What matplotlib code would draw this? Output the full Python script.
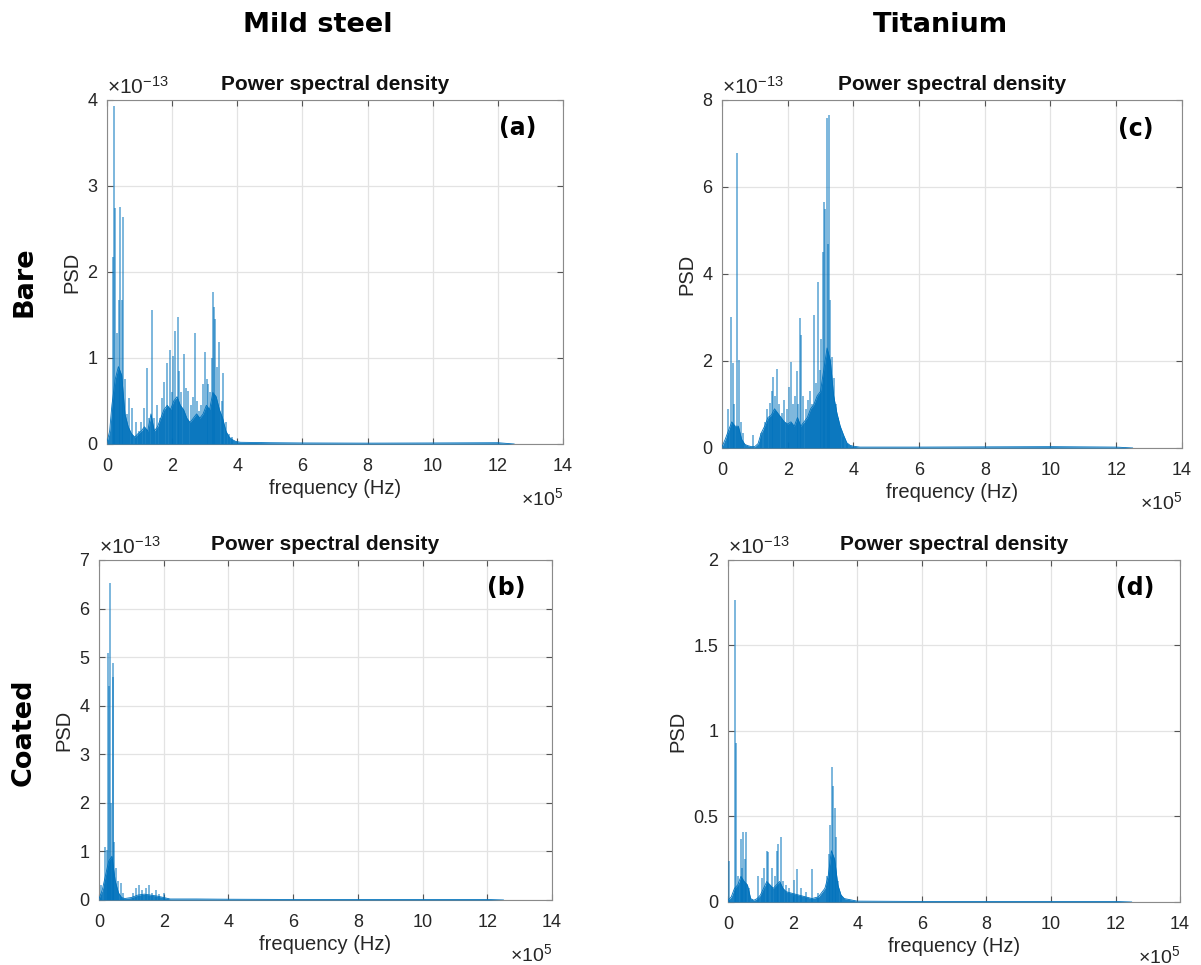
import numpy as np
import matplotlib
matplotlib.use("Agg")
import matplotlib.pyplot as plt

plt.rcParams["font.family"] = ["Liberation Sans", "DejaVu Sans"]
plt.rcParams["mathtext.fontset"] = "custom"
plt.rcParams["mathtext.rm"] = "Liberation Sans"
plt.rcParams["mathtext.it"] = "Liberation Sans"

LINE = "#0072BD"
GRID = "#e3e3e3"
EDGE = "#8a8a8a"
TXT = "#262626"

# frequencies in units of 1e5 Hz, PSD in units of 1e-13

# (a) mild steel, bare
a_env_f = [0, 0.08, 0.15, 0.25, 0.35, 0.45, 0.55, 0.65, 0.75, 0.85, 0.95, 1.05, 1.15,
           1.25, 1.35, 1.45, 1.55, 1.65, 1.75, 1.85, 1.95, 2.05, 2.15, 2.25, 2.35, 2.45,
           2.55, 2.65, 2.75, 2.85, 2.95, 3.05, 3.15, 3.25, 3.35, 3.45, 3.55, 3.65, 3.75,
           3.85, 3.95, 4.1, 5, 6, 8, 10, 12, 12.5]
a_env_v = [0.02, 0.15, 0.45, 0.75, 0.9, 0.8, 0.35, 0.2, 0.12, 0.08, 0.12, 0.15, 0.2,
           0.15, 0.35, 0.15, 0.2, 0.3, 0.4, 0.45, 0.4, 0.5, 0.55, 0.45, 0.4, 0.3,
           0.25, 0.3, 0.35, 0.3, 0.35, 0.45, 0.4, 0.6, 0.55, 0.4, 0.3, 0.15, 0.08,
           0.05, 0.03, 0.02, 0.015, 0.012, 0.01, 0.012, 0.015, 0]
a_spk_f = [0.17, 0.21, 0.26, 0.32, 0.38, 0.40, 0.45, 0.48, 0.55, 0.62, 0.69, 0.78, 0.88,
           0.98, 1.05, 1.13, 1.22, 1.30, 1.37, 1.45, 1.55, 1.62, 1.68, 1.75, 1.83, 1.92,
           1.98, 2.04, 2.09, 2.17, 2.22, 2.28, 2.37, 2.44, 2.50, 2.57, 2.63, 2.71, 2.77,
           2.83, 2.90, 2.96, 3.01, 3.06, 3.10, 3.16, 3.21, 3.24, 3.28, 3.33, 3.38, 3.45,
           3.52, 3.57, 3.65, 3.75, 3.85]
a_spk_v = [2.18, 3.93, 2.74, 1.29, 1.67, 2.76, 1.67, 2.64, 0.75, 0.35, 0.53, 0.42, 0.26,
           0.15, 0.25, 0.42, 0.88, 0.3, 1.56, 0.3, 0.45, 0.3, 0.53, 0.72, 0.94, 1.09,
           0.6, 1.02, 1.31, 1.48, 0.85, 0.6, 1.05, 0.65, 0.62, 0.45, 0.55, 1.29, 0.5,
           0.38, 0.45, 0.7, 1.07, 0.75, 0.7, 0.6, 1.0, 1.77, 1.59, 1.45, 0.9, 1.19,
           0.5, 0.82, 0.25, 0.12, 0.08]

# (b) mild steel, coated
b_env_f = [0, 0.1, 0.2, 0.3, 0.4, 0.5, 0.6, 0.7, 0.8, 1.0, 1.2, 1.4, 1.6, 1.8, 2.0, 2.2,
           3, 4, 6, 8, 10, 12, 12.5]
b_env_v = [0.02, 0.2, 0.5, 0.8, 0.9, 0.4, 0.15, 0.05, 0.03, 0.05, 0.1, 0.12, 0.1, 0.08,
           0.05, 0.02, 0.02, 0.015, 0.01, 0.01, 0.01, 0.01, 0]
b_spk_f = [0.05, 0.19, 0.25, 0.29, 0.31, 0.34, 0.38, 0.42, 0.44, 0.48, 0.53, 0.60, 0.67,
           0.75, 1.05, 1.15, 1.25, 1.32, 1.45, 1.55, 1.65, 1.75, 1.85, 2.0]
b_spk_v = [0.3, 1.1, 1.03, 5.08, 4.4, 6.52, 2.0, 4.6, 4.87, 1.2, 0.65, 0.4, 0.35,
           0.15, 0.15, 0.25, 0.3, 0.2, 0.25, 0.3, 0.15, 0.2, 0.12, 0.15]

# (c) titanium, bare
c_env_f = [0, 0.1, 0.2, 0.3, 0.4, 0.5, 0.6, 0.7, 0.8, 0.9, 1.0, 1.1, 1.2, 1.3, 1.4, 1.5,
           1.6, 1.7, 1.8, 1.9, 2.0, 2.1, 2.2, 2.3, 2.4, 2.5, 2.6, 2.7, 2.8, 2.9, 3.0,
           3.1, 3.2, 3.3, 3.4, 3.5, 3.6, 3.7, 3.8, 3.9, 4.0, 4.2, 6, 8, 10, 12, 12.5]
c_env_v = [0.02, 0.2, 0.4, 0.6, 0.5, 0.5, 0.2, 0.08, 0.05, 0.03, 0.03, 0.1, 0.35, 0.5,
           0.7, 0.75, 0.9, 0.8, 0.7, 0.6, 0.55, 0.6, 0.5, 0.7, 0.5, 0.6, 0.7, 0.9, 1.0,
           1.2, 1.3, 1.8, 2.3, 2.0, 1.2, 0.8, 0.5, 0.3, 0.12, 0.06, 0.04, 0.02, 0.02,
           0.025, 0.03, 0.02, 0]
c_spk_f = [0.20, 0.29, 0.33, 0.38, 0.45, 0.52, 0.58, 0.65, 0.95, 1.20, 1.30, 1.38, 1.46,
           1.52, 1.56, 1.62, 1.68, 1.75, 1.82, 1.90, 1.97, 2.03, 2.09, 2.15, 2.21, 2.27,
           2.32, 2.37, 2.42, 2.48, 2.55, 2.62, 2.68, 2.74, 2.80, 2.86, 2.92, 2.97, 3.03,
           3.07, 3.10, 3.14, 3.19, 3.23, 3.26, 3.30, 3.35, 3.40, 3.46, 3.52, 3.6, 3.7, 3.8]
c_spk_v = [0.9, 3.02, 1.95, 1.0, 6.77, 2.02, 0.6, 0.35, 0.3, 0.35, 0.6, 0.9, 1.03,
           1.3, 1.64, 1.2, 1.81, 1.0, 0.8, 1.1, 0.9, 1.4, 1.98, 1.0, 1.2, 1.78,
           1.0, 2.99, 2.6, 1.2, 0.9, 1.1, 1.3, 1.0, 3.06, 1.5, 3.82, 1.8, 2.5,
           4.5, 5.66, 5.5, 7.58, 4.7, 7.66, 3.4, 2.1, 1.6, 1.0, 0.7, 0.5, 0.25, 0.1]

# (d) titanium, coated
d_env_f = [0, 0.1, 0.2, 0.3, 0.4, 0.5, 0.6, 0.7, 0.8, 0.9, 1.0, 1.1, 1.2, 1.3, 1.4, 1.5,
           1.6, 1.7, 1.8, 2.0, 2.2, 2.4, 2.6, 2.8, 3.0, 3.1, 3.2, 3.3, 3.4, 3.5, 3.6,
           4, 6, 8, 10, 12, 12.5]
d_env_v = [0.01, 0.03, 0.08, 0.1, 0.15, 0.12, 0.1, 0.02, 0.01, 0.02, 0.04, 0.08, 0.12,
           0.1, 0.08, 0.1, 0.12, 0.08, 0.06, 0.05, 0.04, 0.03, 0.02, 0.03, 0.08, 0.15,
           0.3, 0.25, 0.1, 0.04, 0.02, 0.005, 0.003, 0.003, 0.003, 0.003, 0]
d_spk_f = [0.03, 0.22, 0.25, 0.30, 0.39, 0.43, 0.47, 0.52, 0.57, 0.65, 0.94, 1.04, 1.12,
           1.20, 1.25, 1.36, 1.45, 1.52, 1.55, 1.63, 1.70, 1.78, 1.9, 2.05, 2.14, 2.25,
           2.4, 2.59, 2.8, 3.05, 3.12, 3.17, 3.21, 3.26, 3.30, 3.33, 3.4, 3.5]
d_spk_v = [0.24, 1.766, 0.93, 0.15, 0.37, 0.2, 0.41, 0.25, 0.41, 0.08, 0.15, 0.14, 0.2,
           0.30, 0.29, 0.2, 0.15, 0.3, 0.34, 0.38, 0.12, 0.1, 0.08, 0.13, 0.19, 0.08,
           0.06, 0.19, 0.05, 0.15, 0.28, 0.45, 0.79, 0.68, 0.55, 0.38, 0.12, 0.04]

x_ticks = [0, 2, 4, 6, 8, 10, 12, 14]


def draw_panel(ax, env_f, env_v, spk_f, spk_v, ymax, yticks, ytlabels, letter):
    ax.fill_between(env_f, 0, env_v, color=LINE, lw=0, alpha=0.9, zorder=3)
    ax.plot(env_f, env_v, color=LINE, lw=0.6, zorder=3)
    ax.vlines(spk_f, 0, spk_v, color=LINE, lw=1.1, alpha=0.65, zorder=4)
    ax.set_xlim(0, 14)
    ax.set_ylim(0, ymax)
    ax.set_xticks(x_ticks)
    ax.set_yticks(yticks)
    ax.set_yticklabels(ytlabels)
    ax.grid(True, color=GRID, lw=0.9)
    ax.set_axisbelow(True)
    for s in ax.spines.values():
        s.set_color(EDGE)
        s.set_linewidth(0.8)
    ax.tick_params(direction="in", length=4, width=0.8, color="#555555",
                   top=True, right=True, labelsize=13, labelcolor=TXT)
    ax.tick_params(axis="x", pad=10)
    ax.tick_params(axis="y", pad=7)
    ax.set_xlabel("frequency (Hz)", fontsize=14.5, color=TXT, labelpad=3)
    ax.set_ylabel("PSD", fontsize=14.5, color=TXT, labelpad=4)
    ax.set_title("Power spectral density", fontsize=15, fontweight="bold",
                 color="#111111", pad=7)
    ax.text(0.0, 1.005, r"$\times 10^{-13}$", transform=ax.transAxes,
            fontsize=15, color=TXT, ha="left", va="bottom")
    ax.annotate(r"$\times 10^{5}$", xy=(1.0, 0.0), xycoords="axes fraction",
                xytext=(0, -39), textcoords="offset points",
                fontsize=14, color=TXT, ha="right", va="center")
    ax.text(0.90, 0.918, letter, transform=ax.transAxes, fontsize=17,
            fontweight="bold", family="DejaVu Sans", ha="center", va="center")


fig = plt.figure(figsize=(12.01, 9.65), dpi=100)

ax_a = fig.add_axes([0.0891, 0.5399, 0.3797, 0.3565])
ax_b = fig.add_axes([0.0824, 0.0674, 0.3772, 0.3523])
ax_c = fig.add_axes([0.6011, 0.5358, 0.3830, 0.3606])
ax_d = fig.add_axes([0.6062, 0.0653, 0.3764, 0.3544])

draw_panel(ax_a, a_env_f, a_env_v, a_spk_f, a_spk_v, 4,
           [0, 1, 2, 3, 4], ["0", "1", "2", "3", "4"], "(a)")
draw_panel(ax_b, b_env_f, b_env_v, b_spk_f, b_spk_v, 7,
           range(8), [str(i) for i in range(8)], "(b)")
draw_panel(ax_c, c_env_f, c_env_v, c_spk_f, c_spk_v, 8,
           [0, 2, 4, 6, 8], ["0", "2", "4", "6", "8"], "(c)")
draw_panel(ax_d, d_env_f, d_env_v, d_spk_f, d_spk_v, 2,
           [0, 0.5, 1, 1.5, 2], ["0", "0.5", "1", "1.5", "2"], "(d)")

# column and row headers
hdr = dict(fontsize=19.5, fontweight="bold", family="DejaVu Sans", color="black",
           ha="center", va="center")
fig.text(318 / 1201, 1 - 25 / 965, "Mild steel", **hdr)
fig.text(940 / 1201, 1 - 25 / 965, "Titanium", **hdr)
fig.text(24 / 1201, 1 - 282 / 965, "Bare", rotation=90, **hdr)
fig.text(24 / 1201, 1 - 732 / 965, "Coated", rotation=90, **hdr)

fig.savefig("out.png", dpi=100)
